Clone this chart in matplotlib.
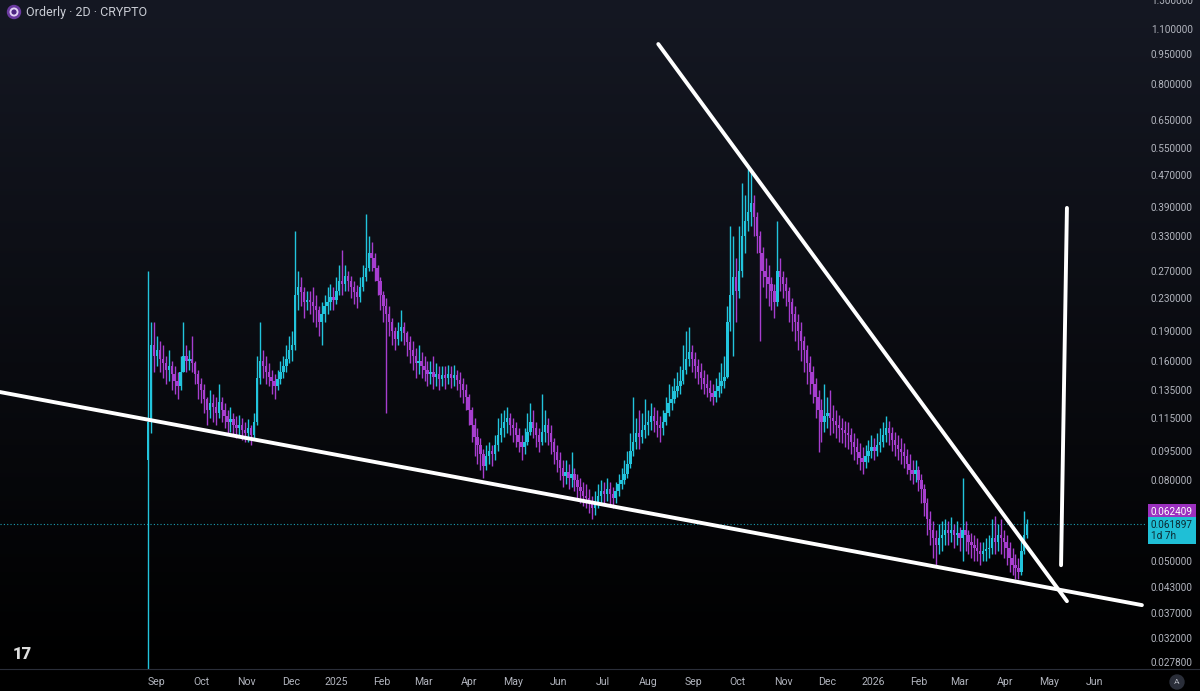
import numpy as np
import pandas as pd
import matplotlib
matplotlib.use('Agg')
import matplotlib.pyplot as plt
import matplotlib.dates as mdates
from matplotlib.ticker import FixedLocator, FuncFormatter, NullLocator
from matplotlib.patches import Circle, Rectangle

plt.rcParams['font.family'] = ['Roboto', 'DejaVu Sans']

# Orderly, 2D candles
start_date = '2024-08-26'
first_open = 0.09

closes = [
    0.112, 0.175, 0.165, 0.17, 0.162, 0.158, 0.152, 0.155, 0.148, 0.142,
    0.138, 0.15, 0.165, 0.16, 0.162, 0.158, 0.148, 0.14, 0.135, 0.128,
    0.12, 0.125, 0.122, 0.118, 0.126, 0.12, 0.116, 0.112, 0.114, 0.11,
    0.108, 0.11, 0.107, 0.105, 0.108, 0.104, 0.112, 0.145, 0.16, 0.155,
    0.15, 0.146, 0.142, 0.138, 0.144, 0.15, 0.155, 0.162, 0.17, 0.175,
    0.235, 0.245, 0.238, 0.225, 0.228, 0.225, 0.22, 0.215, 0.2, 0.21,
    0.22, 0.225, 0.232, 0.228, 0.24, 0.255, 0.25, 0.262, 0.255, 0.245,
    0.238, 0.232, 0.245, 0.26, 0.275, 0.3, 0.29, 0.275, 0.255, 0.235,
    0.22, 0.21, 0.2, 0.19, 0.182, 0.19, 0.195, 0.188, 0.178, 0.17,
    0.165, 0.158, 0.16, 0.155, 0.152, 0.148, 0.15, 0.146, 0.148, 0.144,
    0.147, 0.145, 0.148, 0.145, 0.147, 0.143, 0.14, 0.135, 0.13, 0.12,
    0.11, 0.103, 0.098, 0.093, 0.087, 0.092, 0.095, 0.093, 0.098, 0.104,
    0.108, 0.112, 0.115, 0.11, 0.108, 0.104, 0.1, 0.097, 0.1, 0.106,
    0.112, 0.108, 0.104, 0.1, 0.106, 0.11, 0.105, 0.1, 0.094, 0.09,
    0.086, 0.082, 0.084, 0.081, 0.083, 0.08, 0.077, 0.075, 0.073, 0.072,
    0.07, 0.068, 0.07, 0.073, 0.075, 0.074, 0.076, 0.074, 0.072, 0.075,
    0.078, 0.08, 0.083, 0.088, 0.095, 0.1, 0.105, 0.103, 0.107, 0.11,
    0.112, 0.116, 0.113, 0.11, 0.108, 0.112, 0.118, 0.125, 0.128, 0.134,
    0.138, 0.142, 0.152, 0.162, 0.168, 0.162, 0.155, 0.15, 0.145, 0.14,
    0.137, 0.133, 0.13, 0.134, 0.138, 0.142, 0.146, 0.2, 0.235, 0.26,
    0.24, 0.27, 0.33, 0.36, 0.38, 0.4, 0.37, 0.33, 0.3, 0.27,
    0.26, 0.25, 0.24, 0.225, 0.27, 0.26, 0.25, 0.24, 0.225, 0.21,
    0.2, 0.19, 0.18, 0.17, 0.158, 0.15, 0.14, 0.13, 0.12, 0.112,
    0.116, 0.118, 0.115, 0.113, 0.11, 0.108, 0.107, 0.105, 0.104, 0.1,
    0.097, 0.094, 0.091, 0.089, 0.092, 0.095, 0.097, 0.095, 0.098, 0.1,
    0.104, 0.108, 0.105, 0.101, 0.098, 0.096, 0.094, 0.092, 0.088, 0.085,
    0.083, 0.085, 0.08, 0.076, 0.07, 0.064, 0.06, 0.057, 0.055, 0.057,
    0.058, 0.06, 0.059, 0.06, 0.058, 0.059, 0.057, 0.06, 0.058, 0.056,
    0.055, 0.054, 0.053, 0.052, 0.053, 0.0535, 0.054, 0.057, 0.056, 0.058,
    0.057, 0.056, 0.054, 0.051, 0.049, 0.048, 0.047, 0.053, 0.058, 0.061897,
]

highs = [
    0.27, 0.2, 0.2, 0.185, 0.18, 0.175, 0.165, 0.17, 0.16, 0.155,
    0.15, 0.165, 0.2, 0.175, 0.17, 0.185, 0.16, 0.152, 0.145, 0.14,
    0.13, 0.135, 0.132, 0.13, 0.14, 0.13, 0.125, 0.12, 0.122, 0.118,
    0.116, 0.117, 0.115, 0.112, 0.114, 0.11, 0.118, 0.165, 0.2, 0.17,
    0.165, 0.158, 0.152, 0.148, 0.152, 0.16, 0.165, 0.175, 0.185, 0.19,
    0.34, 0.27, 0.26, 0.245, 0.24, 0.24, 0.245, 0.235, 0.22, 0.225,
    0.235, 0.245, 0.25, 0.245, 0.26, 0.28, 0.305, 0.28, 0.27, 0.262,
    0.255, 0.248, 0.26, 0.28, 0.375, 0.33, 0.32, 0.3, 0.28, 0.26,
    0.24, 0.23, 0.22, 0.205, 0.195, 0.2, 0.215, 0.2, 0.19, 0.185,
    0.18, 0.172, 0.175, 0.168, 0.165, 0.16, 0.16, 0.165, 0.158, 0.155,
    0.155, 0.155, 0.156, 0.155, 0.156, 0.152, 0.15, 0.145, 0.14, 0.132,
    0.122, 0.115, 0.108, 0.102, 0.096, 0.098, 0.1, 0.098, 0.104, 0.115,
    0.118, 0.12, 0.122, 0.118, 0.115, 0.112, 0.108, 0.104, 0.108, 0.118,
    0.125, 0.12, 0.112, 0.108, 0.132, 0.12, 0.115, 0.11, 0.102, 0.098,
    0.094, 0.09, 0.09, 0.088, 0.094, 0.086, 0.083, 0.081, 0.079, 0.078,
    0.076, 0.073, 0.075, 0.078, 0.08, 0.079, 0.081, 0.079, 0.077, 0.079,
    0.083, 0.086, 0.09, 0.095, 0.105, 0.13, 0.115, 0.12, 0.118, 0.128,
    0.12, 0.125, 0.122, 0.12, 0.116, 0.12, 0.13, 0.14, 0.138, 0.145,
    0.15, 0.155, 0.175, 0.19, 0.195, 0.175, 0.168, 0.162, 0.158, 0.152,
    0.148, 0.143, 0.14, 0.145, 0.15, 0.158, 0.165, 0.22, 0.35, 0.33,
    0.29, 0.35, 0.45, 0.42, 0.49, 0.48, 0.42, 0.38, 0.34, 0.31,
    0.29, 0.28, 0.26, 0.25, 0.36, 0.29, 0.27, 0.26, 0.245, 0.23,
    0.22, 0.21, 0.2, 0.185, 0.175, 0.165, 0.155, 0.145, 0.135, 0.128,
    0.14, 0.13, 0.135, 0.124, 0.12, 0.117, 0.115, 0.113, 0.112, 0.108,
    0.105, 0.102, 0.099, 0.097, 0.098, 0.101, 0.104, 0.102, 0.105, 0.108,
    0.112, 0.116, 0.113, 0.109, 0.106, 0.104, 0.102, 0.099, 0.096, 0.093,
    0.09, 0.09, 0.087, 0.083, 0.078, 0.072, 0.067, 0.063, 0.06, 0.062,
    0.063, 0.064, 0.063, 0.0645, 0.062, 0.063, 0.061, 0.081, 0.063, 0.06,
    0.059, 0.058, 0.057, 0.056, 0.056, 0.057, 0.058, 0.064, 0.065, 0.062,
    0.064, 0.06, 0.058, 0.056, 0.054, 0.052, 0.051, 0.057, 0.067, 0.064,
]

lows = [
    0.025, 0.105, 0.15, 0.155, 0.15, 0.145, 0.14, 0.142, 0.135, 0.132,
    0.128, 0.135, 0.15, 0.15, 0.152, 0.15, 0.14, 0.128, 0.125, 0.118,
    0.11, 0.115, 0.112, 0.11, 0.115, 0.112, 0.108, 0.105, 0.106, 0.104,
    0.102, 0.104, 0.101, 0.1, 0.1, 0.098, 0.102, 0.11, 0.14, 0.145,
    0.14, 0.138, 0.132, 0.128, 0.135, 0.14, 0.145, 0.15, 0.158, 0.16,
    0.17, 0.215, 0.22, 0.205, 0.215, 0.21, 0.2, 0.195, 0.185, 0.175,
    0.2, 0.21, 0.215, 0.215, 0.222, 0.235, 0.235, 0.24, 0.24, 0.23,
    0.222, 0.218, 0.225, 0.24, 0.255, 0.27, 0.27, 0.255, 0.235, 0.215,
    0.2, 0.118, 0.185, 0.175, 0.17, 0.175, 0.18, 0.175, 0.165, 0.158,
    0.152, 0.145, 0.148, 0.145, 0.142, 0.138, 0.14, 0.136, 0.138, 0.135,
    0.138, 0.136, 0.14, 0.137, 0.138, 0.135, 0.13, 0.125, 0.12, 0.11,
    0.1, 0.092, 0.088, 0.085, 0.081, 0.085, 0.088, 0.087, 0.09, 0.095,
    0.1, 0.103, 0.105, 0.104, 0.1, 0.097, 0.094, 0.09, 0.093, 0.098,
    0.104, 0.102, 0.097, 0.094, 0.098, 0.1, 0.098, 0.093, 0.088, 0.084,
    0.08, 0.077, 0.078, 0.076, 0.077, 0.075, 0.072, 0.07, 0.069, 0.068,
    0.066, 0.064, 0.0655, 0.068, 0.07, 0.07, 0.071, 0.069, 0.068, 0.07,
    0.073, 0.076, 0.078, 0.081, 0.086, 0.092, 0.096, 0.096, 0.099, 0.102,
    0.104, 0.107, 0.106, 0.103, 0.1, 0.104, 0.11, 0.116, 0.12, 0.125,
    0.13, 0.132, 0.14, 0.148, 0.155, 0.15, 0.145, 0.14, 0.136, 0.132,
    0.13, 0.127, 0.124, 0.126, 0.13, 0.133, 0.137, 0.145, 0.19, 0.165,
    0.2, 0.23, 0.26, 0.3, 0.34, 0.35, 0.33, 0.3, 0.18, 0.245,
    0.23, 0.22, 0.215, 0.205, 0.22, 0.24, 0.23, 0.22, 0.2, 0.19,
    0.18, 0.17, 0.16, 0.15, 0.14, 0.132, 0.125, 0.115, 0.094, 0.1,
    0.106, 0.108, 0.104, 0.105, 0.102, 0.1, 0.099, 0.097, 0.096, 0.093,
    0.09, 0.088, 0.085, 0.083, 0.086, 0.089, 0.091, 0.09, 0.092, 0.094,
    0.097, 0.1, 0.098, 0.095, 0.092, 0.09, 0.088, 0.086, 0.083, 0.08,
    0.078, 0.079, 0.075, 0.07, 0.065, 0.058, 0.055, 0.051, 0.049, 0.052,
    0.053, 0.055, 0.055, 0.056, 0.054, 0.055, 0.053, 0.05, 0.053, 0.052,
    0.051, 0.05, 0.05, 0.049, 0.05, 0.05, 0.051, 0.052, 0.052, 0.053,
    0.052, 0.051, 0.049, 0.047, 0.046, 0.045, 0.045, 0.046, 0.052, 0.057,
]

prev_label_price = 0.062409
countdown = '1d 7h'

price_ticks = [1.3, 1.1, 0.95, 0.8, 0.65, 0.55, 0.47, 0.39, 0.33, 0.27, 0.23,
               0.19, 0.16, 0.135, 0.115, 0.095, 0.08, 0.05, 0.043, 0.037,
               0.032, 0.0278]
month_ticks = pd.date_range('2024-09-01', '2026-06-01', freq='MS')
month_labels = [str(d.year) if d.month == 1 else d.strftime('%b') for d in month_ticks]

# hand-drawn lines on the chart (date, price)
support_dates = ['2024-05-17', '2026-07-03']
support_prices = [0.1335, 0.0387]
resist_dates = ['2025-08-08', '2026-05-13']
resist_prices = [1.008, 0.0396]
target_dates = ['2026-05-09', '2026-05-13']
target_prices = [0.0488, 0.389]

UP = '#22c4dc'
DOWN = '#a73ecf'
TXT = '#b2b5be'

dates = pd.date_range(start_date, periods=len(closes), freq='2D')
x = mdates.date2num(dates)
c = np.array(closes)
o = np.concatenate([[first_open], c[:-1]])
h = np.maximum(np.array(highs), np.maximum(o, c))
l = np.minimum(np.array(lows), np.minimum(o, c))
up = c >= o
col = np.where(up, UP, DOWN)

fig = plt.figure(figsize=(12, 6.91), dpi=100)

# background gradient + black time-axis strip
bg = fig.add_axes([0, 0, 1, 1], zorder=0)
grad = np.linspace(0, 1, 400)[:, None]
top = np.array([0.082, 0.094, 0.137])
img = top[None, None, :] * (1 - grad[:, :, None])
bg.imshow(img, aspect='auto', extent=[0, 1200, 669, 0])
bg.add_patch(Rectangle((0, 669), 1200, 22, color='black'))
bg.set_xlim(0, 1200)
bg.set_ylim(691, 0)
bg.axis('off')

ax = fig.add_axes([0, 22 / 691, 1145 / 1200, 669 / 691], zorder=1)
ax.set_facecolor('none')
ax.set_yscale('log')

ax.vlines(x, l, h, colors=col, linewidth=1.0, zorder=2)
body_lo = np.minimum(o, c)
body_hi = np.maximum(np.maximum(o, c), body_lo * 1.008)
ax.bar(x, body_hi - body_lo, bottom=body_lo, width=1.6, color=col,
       linewidth=0, zorder=3)

ax.axhline(c[-1], color=UP, linestyle=(0, (1, 2)), linewidth=0.8, alpha=0.8, zorder=1)

for d, p in [(support_dates, support_prices), (resist_dates, resist_prices),
             (target_dates, target_prices)]:
    ax.plot(mdates.date2num(pd.to_datetime(d)), p, color='white', linewidth=2.8,
            solid_capstyle='round', zorder=5)

sep1 = mdates.date2num(pd.Timestamp('2024-09-01'))
ax.set_xlim(sep1 - 106.8, sep1 + 672.1)
ax.set_ylim(0.0267, 1.302)

ax.yaxis.tick_right()
ax.yaxis.set_major_locator(FixedLocator(price_ticks))
ax.yaxis.set_minor_locator(NullLocator())
ax.yaxis.set_major_formatter(FuncFormatter(lambda v, _: f'{v:.6f}'))
ax.xaxis.set_major_locator(FixedLocator(mdates.date2num(month_ticks)))
ax.set_xticklabels(month_labels)
ax.tick_params(axis='y', length=0, pad=4.3, labelsize=7.2, labelcolor=TXT)
ax.tick_params(axis='x', length=0, pad=6.0, labelsize=7.6, labelcolor=TXT)
for s in ax.spines.values():
    s.set_visible(False)

# price labels on the scale
ax.annotate(f'{prev_label_price:.6f}', xy=(1, prev_label_price),
            xycoords=('axes fraction', 'data'), xytext=(4.3, 8),
            textcoords='offset points', ha='left', va='center', fontsize=7.2,
            color='white', annotation_clip=False,
            bbox=dict(boxstyle='square,pad=0.3', fc='#9c30bf', ec='none'))
ax.annotate(f'{c[-1]:.6f}\n{countdown}', xy=(1, c[-1]),
            xycoords=('axes fraction', 'data'), xytext=(4.3, -4.5),
            textcoords='offset points', ha='left', va='center', fontsize=7.2,
            color='#0c2a33', linespacing=1.15, annotation_clip=False,
            bbox=dict(boxstyle='square,pad=0.3', fc='#1fbfd6', ec='none'))

# overlay: header, logo, separators
ov = fig.add_axes([0, 0, 1, 1], zorder=4)
ov.set_xlim(0, 1200)
ov.set_ylim(691, 0)
ov.axis('off')
ov.plot([0, 1200], [669, 669], color='#2a2e39', linewidth=0.8)
ov.add_patch(Circle((14, 12), 6.5, color='#6b3aa0'))
ov.add_patch(Circle((14, 12), 3.8, color='#e3d3f5'))
ov.add_patch(Circle((14, 12), 1.9, color='#4a2480'))
ov.text(26, 12.5, 'Orderly · 2D · CRYPTO', fontsize=9, color='#c9ccd4',
        ha='left', va='center')
ov.text(22, 654, '17', fontsize=12, fontweight='heavy', color='#dedede',
        ha='center', va='center')
ov.add_patch(Circle((1177, 682), 7, color='#2a2e39'))
ov.text(1177, 682.5, 'A', fontsize=6, color=TXT, ha='center', va='center')

fig.savefig('out.png', dpi=100)
